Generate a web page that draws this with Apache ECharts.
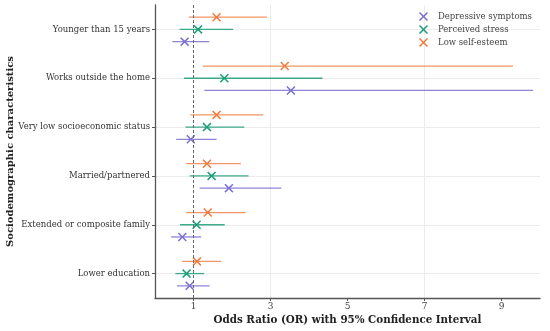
<!DOCTYPE html>
<html>
<head>
<meta charset="utf-8">
<script src="https://cdn.jsdelivr.net/npm/echarts@6/dist/echarts.min.js"></script>
<style>html,body{margin:0;padding:0;background:#fff}#c{width:550px;height:331px}</style>
</head>
<body>
<div id="c"></div>
<script>
var categories = ['Younger than 15 years','Works outside the home','Very low socioeconomic status','Married/partnered','Extended or composite family','Lower education'];
var seriesNames = ['Depressive symptoms','Perceived stress','Low self-esteem'];
// [OR, lower CI, upper CI] per category
var depressiveOR = [0.77, 3.53, 0.93, 1.92, 0.71, 0.90];
var depressiveLow = [0.45, 1.28, 0.55, 1.16, 0.42, 0.57];
var depressiveHigh = [1.41, 9.82, 1.60, 3.28, 1.20, 1.42];
var stressOR = [1.12, 1.80, 1.35, 1.47, 1.08, 0.82];
var stressLow = [0.64, 0.75, 0.79, 0.90, 0.65, 0.53];
var stressHigh = [2.03, 4.35, 2.32, 2.43, 1.81, 1.28];
var esteemOR = [1.60, 3.37, 1.60, 1.35, 1.37, 1.09];
var esteemLow = [0.88, 1.24, 0.92, 0.81, 0.81, 0.70];
var esteemHigh = [2.91, 9.30, 2.81, 2.23, 2.35, 1.72];
var xTicks = [1, 3, 5, 7, 9];

var colors = ['#7b6fd1', '#1b9e77', '#f07b3f'];
var lineColors = ['rgba(123,111,209,0.85)', 'rgba(27,158,119,0.85)', 'rgba(240,123,63,0.8)'];
var offsets = [0.5, 0, -0.5];
var xPath = 'path://M0,1.2 L1.2,0 L5,3.8 L8.8,0 L10,1.2 L6.2,5 L10,8.8 L8.8,10 L5,6.2 L1.2,10 L0,8.8 L3.8,5 Z';

var ors = [depressiveOR, stressOR, esteemOR];
var lows = [depressiveLow, stressLow, esteemLow];
var highs = [depressiveHigh, stressHigh, esteemHigh];

var series = [];
for (var s = 0; s < 3; s++) {
  var ciData = [], ptData = [];
  for (var i = 0; i < categories.length; i++) {
    var yv = 2 * i + 1 + offsets[s];
    ciData.push([lows[s][i], highs[s][i], yv]);
    ptData.push([ors[s][i], yv]);
  }
  (function (lc) {
    series.push({
      type: 'custom', name: seriesNames[s], xAxisIndex: 0, yAxisIndex: 1,
      data: ciData, z: 2, silent: true,
      renderItem: function (params, api) {
        var p1 = api.coord([api.value(0), api.value(2)]);
        var p2 = api.coord([api.value(1), api.value(2)]);
        return { type: 'line', shape: { x1: p1[0], y1: p1[1], x2: p2[0], y2: p2[1] },
                 style: { stroke: lc, lineWidth: 1.3 } };
      }
    });
  })(lineColors[s]);
  series.push({
    type: 'scatter', name: seriesNames[s], xAxisIndex: 0, yAxisIndex: 1,
    data: ptData, symbol: xPath, symbolSize: 9, z: 4,
    itemStyle: { color: colors[s], opacity: 1 }
  });
}
series.push({
  type: 'scatter', xAxisIndex: 0, yAxisIndex: 1, data: [], silent: true,
  markLine: { silent: true, symbol: 'none', label: { show: false },
    lineStyle: { color: '#666', type: [3, 2], width: 1 },
    data: [{ xAxis: 1 }] }
});

var chart = echarts.init(document.getElementById('c'), null, { renderer: 'canvas' });
chart.setOption({
  animation: false,
  color: colors,
  textStyle: { fontFamily: 'DejaVu Serif' },
  grid: { left: 155, right: 10, top: 5, bottom: 33, containLabel: false, outerBoundsMode: 'none' },
  legend: {
    orient: 'vertical', left: 414, top: 7, itemWidth: 9, itemHeight: 9, itemGap: 4,
    data: seriesNames.map(function (n, k) { return { name: n, icon: xPath, itemStyle: { color: colors[k] } }; }),
    textStyle: { fontFamily: 'DejaVu Serif', fontSize: 8.5, color: '#444', padding: [0, 0, 0, 5] }
  },
  xAxis: {
    type: 'value', min: 0, max: 10, interval: 1,
    name: 'Odds Ratio (OR) with 95% Confidence Interval', nameLocation: 'middle', nameGap: 17,
    nameMoveOverlap: false,
    nameTextStyle: { fontFamily: 'DejaVu Serif', fontWeight: 'bold', fontSize: 10.3, color: '#222' },
    axisLine: { show: true, onZero: false, lineStyle: { color: '#555', width: 1.3 } },
    axisTick: { show: true, customValues: xTicks, length: 3, lineStyle: { color: '#555' } },
    axisLabel: { customValues: xTicks, fontSize: 9, color: '#444', margin: 4, fontFamily: 'DejaVu Serif' },
    splitLine: { show: true, lineStyle: { color: ['rgba(0,0,0,0)', '#ececec'], width: 1 } }
  },
  yAxis: [{
    type: 'category', data: categories, inverse: true, position: 'left',
    axisLine: { show: true, onZero: false, lineStyle: { color: '#555', width: 1.3 } },
    axisTick: { show: true, alignWithLabel: true, length: 3, lineStyle: { color: '#555' } },
    axisLabel: { fontSize: 8.5, color: '#333', margin: 5, fontFamily: 'DejaVu Serif' },
    splitLine: { show: false },
    name: 'Sociodemographic characteristics', nameLocation: 'middle', nameGap: 140, nameRotate: 90,
    nameMoveOverlap: false,
    nameTextStyle: { fontFamily: 'DejaVu Serif', fontWeight: 'bold', fontSize: 10, color: '#222' }
  }, {
    type: 'value', min: 0, max: 12, interval: 1, inverse: true, position: 'right',
    axisLine: { show: false }, axisTick: { show: false }, axisLabel: { show: false },
    splitLine: { show: true, lineStyle: { color: ['rgba(0,0,0,0)', '#ececec'], width: 1 } }
  }],
  series: series
});
</script>
</body>
</html>
